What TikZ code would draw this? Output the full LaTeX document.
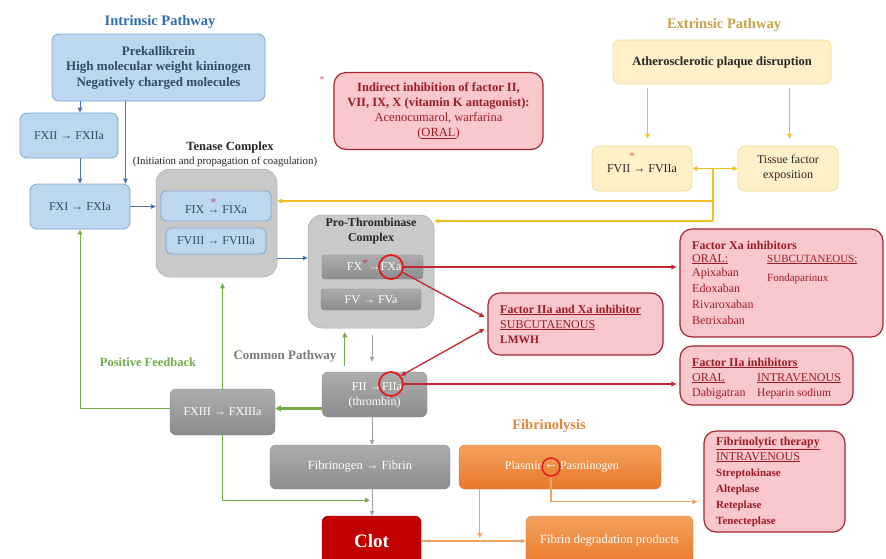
\documentclass[tikz,border=0pt]{standalone}
\usepackage{fontspec}
\setmainfont{Liberation Serif}
\usetikzlibrary{arrows.meta,calc}
\definecolor{bfill}{HTML}{BDD7EE}
\definecolor{bdraw}{HTML}{7EA6D3}
\definecolor{btext}{HTML}{2F4B70}
\definecolor{btitle}{HTML}{2E6DAE}
\definecolor{barrow}{HTML}{4A72B0}
\definecolor{gcont}{HTML}{C9C9C9}
\definecolor{gtop}{HTML}{ADADAD}
\definecolor{gbot}{HTML}{8C8C8C}
\definecolor{grn}{HTML}{70AD47}
\definecolor{goldc}{HTML}{F2BE22}
\definecolor{ytitle}{HTML}{C9A24A}
\definecolor{yfill}{HTML}{FFF0C8}
\definecolor{ydraw}{HTML}{F5DC96}
\definecolor{pfill}{HTML}{F8C8CC}
\definecolor{pdraw}{HTML}{A5262E}
\definecolor{ptext}{HTML}{9E1B24}
\definecolor{otop}{HTML}{F5A25E}
\definecolor{obot}{HTML}{E8782A}
\definecolor{oarrow}{HTML}{F0A466}
\definecolor{otitle}{HTML}{E0883A}
\definecolor{clotred}{HTML}{C00000}
\definecolor{cpgray}{HTML}{7A7A7A}
\definecolor{rarrow}{HTML}{C3262E}
\definecolor{rcirc}{HTML}{E31B1B}
\definecolor{astred}{HTML}{E04050}
\definecolor{grarrow}{HTML}{A0A0A0}
\newcommand\starrow{\makebox[0pt][l]{\hspace{0.25em}\raisebox{1.15ex}{\textcolor{astred}{*}}}→}
\begin{document}
\begin{tikzpicture}[x=1pt,y=-1pt,
  box/.style={rounded corners=7pt, align=center, inner sep=1pt},
  bluebox/.style={box, fill=bfill, draw=bdraw, line width=0.8pt, text=btext, font=\fontsize{12}{14}\selectfont},
  ybox/.style={box, fill=yfill, draw=ydraw, line width=0.8pt, text=black!85, font=\fontsize{12}{15}\selectfont},
  pbox/.style={box, fill=pfill, draw=pdraw, line width=1.2pt, rounded corners=12pt},
  graycont/.style={box, fill=gcont, draw=gcont!85!black, line width=0.5pt, rounded corners=14pt},
  graybox/.style={box, top color=gtop, bottom color=gbot, draw=gbot, text=white, rounded corners=6pt, font=\fontsize{12}{15}\selectfont},
  orbox/.style={box, top color=otop, bottom color=obot, draw=obot, text=white, rounded corners=6pt, font=\fontsize{12.5}{15}\selectfont},
  wtxt/.style={text=white, inner sep=0pt, font=\fontsize{12}{15}\selectfont},
  ptxt/.style={anchor=base west, text=ptext, inner sep=0pt, font=\fontsize{12}{14}\selectfont},
  pbold/.style={ptxt, font=\bfseries\fontsize{12}{14}\selectfont},
  redcirc/.style={circle, draw=rcirc, line width=1.8pt, inner sep=0pt},
  title/.style={font=\bfseries\fontsize{14.5}{16}\selectfont},
  arr/.style={-{Triangle[length=5pt,width=4.5pt]}, line width=1pt},
  barr/.style={arr, draw=barrow},
  garr/.style={arr, draw=goldc, line width=1.3pt},
  gline/.style={draw=goldc, line width=1.3pt},
  gdarr/.style={garr, {Triangle[length=5pt,width=4.5pt]}-{Triangle[length=5pt,width=4.5pt]}},
  rarr/.style={arr, draw=rarrow, line width=1.3pt},
  rdarr/.style={rarr, {Triangle[length=5pt,width=4.5pt]}-{Triangle[length=5pt,width=4.5pt]}},
  gnarr/.style={arr, draw=grn},
  grarr/.style={arr, draw=grarrow},
  oarr/.style={arr, draw=oarrow, line width=1.2pt}
]
\useasboundingbox (0,0) rectangle (886,558);
\fill[white] (0,0) rectangle (886,558);

% ---- titles
\node[title, text=btitle] (tintr) at (160,22) {Intrinsic Pathway};
\node[title, text=ytitle] (textr) at (724,25) {Extrinsic Pathway};
\node[title, text=otitle] (tfibl) at (549,426) {Fibrinolysis};
\node[font=\bfseries\fontsize{12.5}{14}\selectfont, text=grn] (tpos) at (148,362) {Positive Feedback};
\node[font=\bfseries\fontsize{13}{14}\selectfont, text=cpgray] (tcom) at (285,356) {Common Pathway};
\node[font=\bfseries\fontsize{12.5}{14}\selectfont, text=black!85] (tten) at (230,147) {Tenase Complex};
\node[font=\fontsize{10.8}{12}\selectfont, text=black!85] (tten2) at (225,162) {(Initiation and propagation of coagulation)};

% ---- intrinsic
\node[bluebox, minimum width=213, minimum height=67, font=\bfseries\fontsize{13}{15.5}\selectfont] (prek) at (158.5,67.5)
  {Prekallikrein\\High molecular weight kininogen\\Negatively charged molecules};
\node[bluebox, minimum width=98, minimum height=45] (fxii) at (69,135.5) {FXII → FXIIa};
\node[bluebox, minimum width=100, minimum height=45] (fxi) at (80,206.5) {FXI → FXIa};

% ---- tenase
\node[graycont, minimum width=121, minimum height=108] (tenase) at (216.5,223) {};
\node[bluebox, minimum width=110, minimum height=30, rounded corners=5pt] (fix) at (216,206) {FIX \starrow\ FIXa};
\node[bluebox, minimum width=100, minimum height=26, rounded corners=5pt] (fviii) at (216,241) {FVIII → FVIIIa};

% ---- pro-thrombinase
\node[graycont, minimum width=126, minimum height=113] (proth) at (371,271.5) {};
\node[font=\bfseries\fontsize{12}{15.5}\selectfont, text=black!85, align=center] (tproth) at (371,231) {Pro-Thrombinase\\Complex};
\node[graybox, minimum width=101, minimum height=24, rounded corners=3pt] (fx) at (372.5,267) {};
\node[wtxt] (fxa) at (391,267) {FXa};
\node[wtxt, anchor=base east] (fxl) at (fxa.base west) {FX\raisebox{0.55ex}{\textcolor{astred}{*}}→\hspace{0.25em}};
\node[redcirc, minimum size=24] (fxac) at (fxa) {};
\node[graybox, minimum width=100, minimum height=21, rounded corners=3pt] (fv) at (371,299.5) {FV → FVa};

% ---- common pathway
\node[graybox, minimum width=105, minimum height=45] (fii) at (374.5,394.5) {};
\node[wtxt] (fiia) at (392,387) {FIIa};
\node[wtxt, anchor=base east] (fiil) at (fiia.base west) {FII →\hspace{0.25em}};
\node[wtxt] (fiith) at (374.5,403) {(thrombin)};
\node[redcirc, minimum size=24] (fiiac) at (391,384) {};
\node[graybox, minimum width=105, minimum height=46] (fxiii) at (222.5,412) {FXIII → FXIIIa};
\node[graybox, minimum width=180, minimum height=44, font=\fontsize{12.5}{15}\selectfont] (fib) at (360,467) {Fibrinogen → Fibrin};
\node[box, fill=clotred, draw=clotred!85!black, text=white, font=\bfseries\fontsize{19}{22}\selectfont,
  minimum width=99, minimum height=50, rounded corners=6pt] (clot) at (371.5,541) {Clot};

% ---- fibrinolysis
\node[orbox, minimum width=202, minimum height=44] (plasmin) at (560,467) {};
\node[wtxt, font=\fontsize{14}{15}\selectfont] (parr) at (551,467) {←};
\node[wtxt, anchor=base east] (plasl) at ($(parr.base west)+(0,0.5)$) {Plasmin\hspace{0.15em}};
\node[wtxt, anchor=base west] (plasr) at ($(parr.base east)+(0,0.5)$) {\hspace{0.15em}Pasminogen};
\node[redcirc, minimum size=18, line width=1.5pt] (pcirc) at (parr) {};
\node[orbox, minimum width=167, minimum height=50] (fdp) at (609.5,541) {Fibrin degradation products};

% ---- extrinsic
\node[ybox, minimum width=218, minimum height=44, font=\bfseries\fontsize{12.5}{14}\selectfont] (ather) at (722,62) {Atherosclerotic plaque disruption};
\node[ybox, minimum width=100, minimum height=45] (fvii) at (642,168.5) {FVII → FVIIa};
\node[text=astred, inner sep=0pt, font=\fontsize{10}{11}\selectfont] (fviiast) at (632,156) {*};
\node[ybox, minimum width=100, minimum height=45] (tf) at (788,168.5) {Tissue factor\\exposition};

% ---- inhibitors
\node[pbox, minimum width=209, minimum height=77, text=ptext, font=\fontsize{12.5}{15}\selectfont] (indir) at (438.5,111)
  {\textbf{Indirect inhibition of factor II,}\\\textbf{VII, IX, X (vitamin K antagonist):}\\Acenocumarol, warfarina\\(\underline{ORAL})};
\node[text=astred, inner sep=0pt, font=\fontsize{9}{10}\selectfont] (indast) at (322,80) {*};

\node[pbox, minimum width=203, minimum height=108] (xa) at (781.5,283) {};
\node[pbold] (xa1) at (692,249) {Factor Xa inhibitors};
\node[ptxt] (xa2) at (692,262) {\underline{ORAL:}};
\node[ptxt, font=\fontsize{11}{13}\selectfont] (xa3) at (767,262) {\underline{SUBCUTANEOUS:}};
\node[ptxt] (xa4) at (692,276) {Apixaban};
\node[ptxt] (xa5) at (692,292) {Edoxaban};
\node[ptxt] (xa6) at (692,308) {Rivaroxaban};
\node[ptxt] (xa7) at (692,324) {Betrixaban};
\node[ptxt, font=\fontsize{11}{13}\selectfont] (xa8) at (767,281) {Fondaparinux};

\node[pbox, minimum width=175, minimum height=62] (iixa) at (575.5,324) {};
\node[pbold] (ix1t) at (500,313) {\underline{Factor IIa and Xa inhibitor}};
\node[ptxt] (ix2t) at (500,328) {\underline{SUBCUTAENOUS}};
\node[pbold, font=\bfseries\fontsize{11.5}{14}\selectfont] (ix3t) at (500,343) {LMWH};

\node[pbox, minimum width=173, minimum height=59] (iia) at (766.5,375.5) {};
\node[pbold] (ia1) at (692,366) {\underline{Factor IIa inhibitors}};
\node[ptxt] (ia2) at (692,381) {\underline{ORAL}};
\node[ptxt] (ia3) at (757,381) {\underline{INTRAVENOUS}};
\node[ptxt] (ia4) at (692,396) {Dabigatran};
\node[ptxt, font=\fontsize{11.5}{13}\selectfont] (ia5) at (757,396) {Heparin sodium};

\node[pbox, minimum width=141, minimum height=101] (fibther) at (774.5,481.5) {};
\node[pbold] (ft1) at (716,445) {\underline{Fibrinolytic therapy}};
\node[ptxt] (ft2) at (716,460) {\underline{INTRAVENOUS}};
\node[pbold, font=\bfseries\fontsize{11}{13}\selectfont] (ft3) at (716,476) {Streptokinase};
\node[pbold, font=\bfseries\fontsize{11}{13}\selectfont] (ft4) at (716,492) {Alteplase};
\node[pbold, font=\bfseries\fontsize{11}{13}\selectfont] (ft5) at (716,508) {Reteplase};
\node[pbold, font=\bfseries\fontsize{11}{13}\selectfont] (ft6) at (716,524) {Tenecteplase};

% ---- blue connectors
\draw[barr] (fxi.north |- prek.south) -- (fxi.north |- fxii.north);
\draw[barr] (fxi.north |- fxii.south) -- (fxi.north);
\coordinate (pk) at ($(fxi.north east)+(-5,0)$);
\draw[barr] (pk |- prek.south) -- (pk);
\draw[barr] (fxi.east) -- (fxi.east -| tenase.west);
\coordinate (tp) at ($(tenase.east)+(0,35)$);
\draw[barr] (tp) -- (tp -| proth.west);

% ---- gold connectors
\coordinate (a1) at ($(ather.south west)+(35,4)$);
\coordinate (a2) at ($(ather.south east)+(-42,4)$);
\draw[garr] (a1) -- ($(a1 |- fvii.north)+(0,-7)$);
\draw[garr] (a2) -- ($(a2 |- tf.north)+(0,-7)$);
\draw[gdarr] (fvii.east) -- (tf.west);
\coordinate (gj) at ($(fvii.east)!0.457!(tf.west)$);
\coordinate (gu) at ($(gj)+(0,32.5)$);
\coordinate (gd) at ($(gj)+(0,52.5)$);
\draw[gline] (gj) -- (gd);
\draw[garr] (gu) -- (gu -| tenase.east);
\draw[garr] (gd) -- (gd -| proth.east);

% ---- red connectors
\draw[rarr] (fxac.east) -- ($(fxac.east -| xa.west)+(-3,0)$);
\coordinate (ix1) at ($(iixa.west)+(-3,-7)$);
\coordinate (ix2) at ($(iixa.west)+(-3,5)$);
\draw[rarr] (fxac.-25) -- (ix1);
\draw[rdarr] (ix2) -- (fiiac.40);
\draw[rarr] (fiiac.east) -- ($(fiiac.east -| iia.west)+(-3,0)$);

% ---- gray connectors
\coordinate (c1) at ($(proth.south)+(1,7)$);
\draw[grarr] (c1) -- ($(c1 |- fii.north)+(0,-10)$);
\draw[grarr] (c1 |- fii.south) -- (c1 |- fib.north);
\draw[grarr] (c1 |- fib.south) -- (c1 |- clot.north);

% ---- green connectors
\coordinate (g1) at ($(fii.west)+(0,14)$);
\draw[gnarr, line width=2.2pt, -{Triangle[length=6pt,width=6pt]}] (g1) -- (g1 -| fxiii.east);
\coordinate (g2) at ($(fxiii.west)+(0,-4)$);
\draw[gnarr] (g2) -- (g2 -| fxi.south) -- (fxi.south);
\draw[gnarr, shorten >=6pt] (fxiii.north) -- (fxiii.north |- tenase.south);
\coordinate (g3) at ($(fii.north west)+(23,-6)$);
\draw[gnarr, shorten >=4pt] (g3) -- (g3 |- proth.south);
\coordinate (g4) at ($(fxiii.south)+(0,65)$);
\draw[gnarr] (fxiii.south) -- (g4) -- ($(g4 -| c1)+(-2,0)$);

% ---- orange connectors
\draw[oarr] (clot.east) -- (clot.east -| fdp.west);
\coordinate (o1) at ($(plasmin.south west)+(21,0)$);
\draw[oarr] (o1) -- ($(o1 |- clot.east)+(0,-3)$);
\coordinate (o3) at ($(pcirc.south)+(0,25)$);
\draw[oarr] (pcirc.south) -- (o3) -- ($(o3 -| fibther.west)+(-6,0)$);
\end{tikzpicture}
\end{document}
